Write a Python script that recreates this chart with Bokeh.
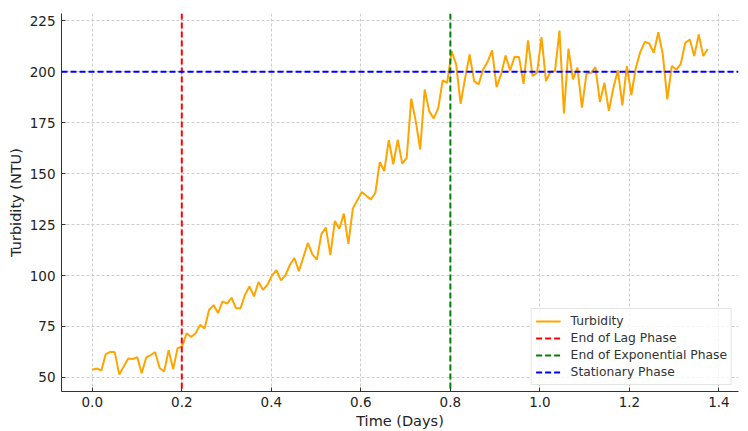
from bokeh.plotting import figure
from bokeh.models import Span, Legend, LegendItem, FixedTicker, Range1d, NumeralTickFormatter
from bokeh.embed import file_html
from bokeh.resources import INLINE
import numpy as np

# ---- data ----
turbidity = [
    53.8, 54.4, 53.3, 61.4, 62.6, 62.4, 51.5, 55.4, 59.3, 59.0,
    60.0, 52.1, 59.8, 61.0, 62.4, 54.6, 52.9, 63.4, 54.1, 64.4,
    65.2, 71.7, 69.8, 71.7, 75.8, 74.0, 83.2, 85.5, 81.6, 87.3,
    86.2, 89.1, 83.9, 83.9, 90.6, 94.7, 89.8, 96.8, 93.0, 95.5,
    100.1, 102.6, 97.6, 100.1, 105.3, 108.6, 102.2, 109.1, 116.0, 110.4,
    107.8, 120.3, 123.5, 110.0, 126.8, 123.0, 130.4, 115.5, 132.8, 137.0,
    141.0, 139.2, 137.3, 140.5, 155.7, 151.3, 166.5, 154.6, 166.7, 154.9,
    157.8, 186.8, 175.8, 161.9, 191.3, 180.7, 177.1, 182.0, 195.8, 194.6,
    210.1, 203.6, 184.3, 197.0, 208.5, 195.4, 193.8, 201.1, 204.9, 210.5,
    192.5, 198.7, 208.0, 200.7, 207.4, 207.2, 194.1, 215.4, 197.9, 199.5,
    217.0, 195.4, 200.0, 200.3, 220.2, 179.5, 211.4, 196.3, 202.0, 182.4,
    199.0, 199.5, 202.3, 185.2, 194.6, 180.8, 192.2, 200.7, 183.5, 202.8,
    188.6, 202.0, 209.8, 214.7, 213.9, 209.3, 219.4, 208.5, 186.5, 202.8,
    201.1, 203.9, 214.2, 215.8, 207.7, 218.3, 207.7, 211.2,
]
time_days = np.linspace(0.0, 1.375, len(turbidity))

lag_end = 0.2
exp_end = 0.8
stationary_level = 200

x_ticks = [0.0, 0.2, 0.4, 0.6, 0.8, 1.0, 1.2, 1.4]
y_ticks = [50, 75, 100, 125, 150, 175, 200, 225]

FONT = "DejaVu Sans"
TICK_FS = "13.5px"
LABEL_FS = "14.5px"
DASH = "6 3"

p = figure(width=748, height=431, output_backend="svg", toolbar_location=None,
           x_range=Range1d(-0.06875, 1.44375), y_range=Range1d(43.1, 228.6),
           min_border_left=61, min_border_right=10, min_border_top=13, min_border_bottom=40)
p.outline_line_color = None
p.background_fill_color = "white"

line_r = p.line(time_days, turbidity, line_color="orange", line_width=2)

red_dummy = p.line(x=[np.nan], y=[np.nan], line_color="red", line_width=2, line_dash=DASH)
green_dummy = p.line(x=[np.nan], y=[np.nan], line_color="green", line_width=2, line_dash=DASH)
blue_dummy = p.line(x=[np.nan], y=[np.nan], line_color="blue", line_width=2, line_dash=DASH)

p.add_layout(Span(location=lag_end, dimension="height", line_color="red", line_width=2, line_dash=DASH))
p.add_layout(Span(location=exp_end, dimension="height", line_color="green", line_width=2, line_dash=DASH))
p.add_layout(Span(location=stationary_level, dimension="width", line_color="blue", line_width=2, line_dash=DASH))

# axes
p.xaxis.ticker = FixedTicker(ticks=x_ticks)
p.yaxis.ticker = FixedTicker(ticks=y_ticks)
p.xaxis.formatter = NumeralTickFormatter(format="0.0")
p.xaxis.axis_label = "Time (Days)"
p.yaxis.axis_label = "Turbidity (NTU)"
for ax in (p.xaxis, p.yaxis):
    ax.axis_label_text_font = FONT
    ax.axis_label_text_font_size = LABEL_FS
    ax.axis_label_text_font_style = "normal"
    ax.axis_label_text_color = "#222222"
    ax.major_label_text_font = FONT
    ax.major_label_text_font_size = TICK_FS
    ax.major_label_text_color = "#222222"
    ax.axis_line_color = "#333333"
    ax.axis_line_width = 1
    ax.major_tick_line_color = "#333333"
    ax.major_tick_out = 0
    ax.major_tick_in = 4
    ax.minor_tick_line_color = None
    ax.axis_label_standoff = 3
p.xaxis.major_label_standoff = 5
p.yaxis.major_label_standoff = 6

p.grid.grid_line_color = "#cccccc"
p.grid.grid_line_dash = "3 2"
p.grid.grid_line_width = 1

legend = Legend(items=[
    LegendItem(label="Turbidity", renderers=[line_r]),
    LegendItem(label="End of Lag Phase", renderers=[red_dummy]),
    LegendItem(label="End of Exponential Phase", renderers=[green_dummy]),
    LegendItem(label="Stationary Phase", renderers=[blue_dummy]),
], location="bottom_right")
legend.label_text_font = FONT
legend.label_text_font_size = "12.3px"
legend.label_text_color = "#333333"
legend.glyph_width = 25
legend.glyph_height = 16
legend.label_height = 16
legend.spacing = 1
legend.padding = 4
legend.margin = 6
legend.label_standoff = 10
legend.border_line_color = "#cccccc"
legend.border_line_width = 1
legend.background_fill_alpha = 0.8
p.add_layout(legend)

open("out.html", "w").write(file_html(p, INLINE))
